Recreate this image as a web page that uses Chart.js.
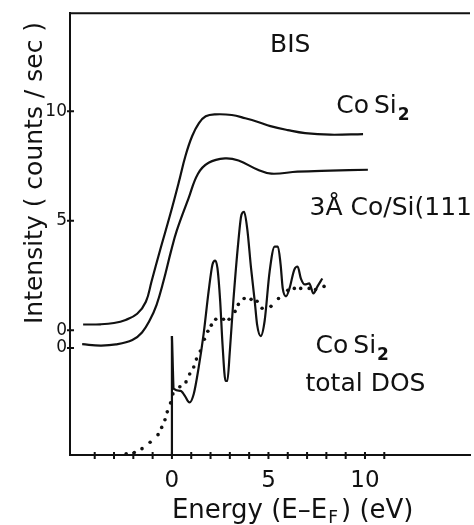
<!DOCTYPE html>
<html>
<head>
<meta charset="utf-8">
<script src="https://cdn.jsdelivr.net/npm/chart.js@4.4.1/dist/chart.umd.min.js"></script>
<style>
  html, body { margin: 0; padding: 0; background: #fff; }
  #chart { display: block; }
</style>
</head>
<body>
<canvas id="chart" width="474" height="525"></canvas>
<script>
const INK = '#111';
const FONT = "'DejaVu Sans', sans-serif";

// BIS spectrum of CoSi2 (upper trace)
const cosi2Energy = [-4.6, -3.7, -3.0, -2.4, -1.8, -1.35, -1.05, -0.6, -0.1, 0.35, 0.7, 1.05, 1.4, 1.75, 2.25, 3.1, 3.8, 4.5, 5.1, 6.0, 6.9, 8.2, 9.9];
const cosi2Counts = [0.26, 0.27, 0.33, 0.47, 0.75, 1.3, 2.25, 3.7, 5.25, 6.74, 7.96, 8.87, 9.46, 9.77, 9.86, 9.83, 9.68, 9.5, 9.32, 9.14, 9.0, 8.93, 8.96];

// BIS spectrum of 3 A Co on Si(111) (lower trace, drawn on its own offset zero)
const coSiEnergy = [-4.65, -3.7, -2.9, -2.05, -1.55, -1.15, -0.8, -0.45, -0.05, 0.25, 0.85, 1.35, 1.9, 2.75, 3.45, 4.45, 5.15, 6.5, 8.2, 10.15];
const coSiCounts = [-0.64, -0.7, -0.65, -0.45, -0.1, 0.45, 1.15, 2.2, 3.6, 4.55, 6.0, 7.15, 7.65, 7.85, 7.75, 7.33, 7.15, 7.24, 7.29, 7.33];

// calculated CoSi2 total DOS (solid), with the edge at E_F
const dosEdgeEnergy = [0, 0];
const dosEdgeValue = [-5.7, -0.27];
const dosEnergy = [0, 0.1, 0.45, 0.67, 0.91, 1.13, 1.38, 1.64, 1.9, 2.1, 2.24, 2.36, 2.5, 2.62, 2.78, 2.87, 3.0, 3.18, 3.44, 3.6, 3.74, 3.9, 4.1, 4.29, 4.41, 4.6, 4.8, 5.06, 5.32, 5.49, 5.63, 5.74, 5.91, 6.09, 6.34, 6.51, 6.68, 6.89, 7.11, 7.33, 7.54, 7.79];
const dosValue = [-0.27, -2.68, -2.77, -3.0, -3.3, -2.91, -1.73, -0.18, 1.77, 3.0, 3.18, 2.82, 1.32, -0.64, -2.32, -2.32, -0.95, 1.32, 4.05, 5.27, 5.41, 4.64, 2.82, 1.32, 0.27, -0.27, 0.41, 2.68, 3.82, 3.82, 3.0, 1.91, 1.55, 1.91, 2.77, 2.91, 2.36, 2.09, 2.14, 1.68, 2.0, 2.36];

// broadened DOS (dotted)
const dotEnergy = [-2.37, -1.95, -1.55, -1.13, -0.72, -0.53, -0.36, -0.24, -0.07, 0.05, 0.41, 0.73, 0.92, 1.13, 1.27, 1.47, 1.68, 1.86, 2.04, 2.27, 2.67, 2.96, 3.27, 3.44, 3.74, 4.1, 4.41, 4.67, 5.13, 5.52, 6.0, 6.34, 6.67, 7.11, 7.44, 7.88];
const dotValue = [-5.64, -5.59, -5.41, -5.12, -4.77, -4.44, -4.09, -3.73, -3.32, -2.91, -2.58, -2.36, -2.0, -1.68, -1.32, -0.95, -0.41, -0.05, 0.23, 0.5, 0.5, 0.5, 0.86, 1.18, 1.45, 1.41, 1.32, 1.0, 1.09, 1.45, 1.82, 1.91, 1.91, 1.91, 1.86, 2.0];

// axis ticks
const xTickValues = [-4, -3, -2, -1, 0, 1, 2, 3, 4, 5, 6, 7, 8, 9, 10, 11];
const xTickLabels = { 0: '0', 5: '5', 10: '10' };
const yTickValues = [-0.81, 0, 5, 10];
const yTickLabels = ['0', '0', '5', '10'];

const pts = (xs, ys) => xs.map((x, i) => ({ x, y: ys[i] }));

const lineSet = (data, extra) => Object.assign({
    data,
    showLine: true,
    borderColor: INK,
    borderWidth: 2.2,
    pointRadius: 0,
    fill: false
}, extra);

const frameAndTicks = {
    id: 'frameAndTicks',
    afterDraw(chart) {
        const { ctx, chartArea: a, scales: { x, y } } = chart;
        ctx.save();
        ctx.strokeStyle = INK;
        ctx.lineWidth = 2;
        ctx.beginPath();
        ctx.moveTo(a.left - 1, a.top);
        ctx.lineTo(a.right, a.top);
        xTickValues.forEach(v => {
            const px = x.getPixelForValue(v);
            ctx.moveTo(px, a.bottom - 3);
            ctx.lineTo(px, a.bottom + 4);
        });
        yTickValues.forEach(v => {
            const py = y.getPixelForValue(v);
            ctx.moveTo(a.left - 3, py);
            ctx.lineTo(a.left + 4, py);
        });
        ctx.stroke();
        ctx.restore();
    }
};

const textNotes = {
    id: 'textNotes',
    afterDraw(chart) {
        const { ctx, chartArea: a, scales: { x, y } } = chart;
        const notes = [
            { e: 5.08, v: 12.71, text: 'BIS' },
            { e: 8.51, v: 9.91, text: 'Co\u2009Si', sub: '2' },
            { e: 7.13, v: 5.25, text: '3Å Co/Si(111)' },
            { e: 7.44, v: -1.04, text: 'Co\u2009Si', sub: '2' },
            { e: 6.92, v: -2.76, text: 'total DOS' }
        ];
        ctx.save();
        ctx.fillStyle = INK;
        ctx.textBaseline = 'alphabetic';
        ctx.textAlign = 'left';
        notes.forEach(n => {
            const px = x.getPixelForValue(n.e);
            const py = y.getPixelForValue(n.v);
            ctx.font = '25px ' + FONT;
            ctx.fillText(n.text, px, py);
            if (n.sub) {
                const w = ctx.measureText(n.text).width;
                ctx.font = 'bold 17px ' + FONT;
                ctx.fillText(n.sub, px + w + 1, py + 7);
            }
        });

        // x axis title with subscript
        let tx = x.getPixelForValue(0);
        const ty = 518;
        ctx.font = '26px ' + FONT;
        ctx.fillText('Energy (E\u2013E', tx, ty);
        tx += ctx.measureText('Energy (E\u2013E').width;
        ctx.font = '17px ' + FONT;
        ctx.fillText('F', tx + 1, ty + 5);
        tx += ctx.measureText('F').width + 4;
        ctx.font = '26px ' + FONT;
        ctx.fillText(') (eV)', tx, ty);

        // y axis title
        ctx.translate(a.left - 28, 173);
        ctx.rotate(-Math.PI / 2);
        ctx.textAlign = 'center';
        ctx.font = '25px ' + FONT;
        ctx.fillText('Intensity ( counts / sec )', 0, 0);
        ctx.restore();
    }
};

new Chart(document.getElementById('chart').getContext('2d'), {
    type: 'scatter',
    data: {
        datasets: [
            lineSet(pts(cosi2Energy, cosi2Counts), { tension: 0.4 }),
            lineSet(pts(coSiEnergy, coSiCounts), { tension: 0.4 }),
            lineSet(pts(dosEdgeEnergy, dosEdgeValue), { tension: 0 }),
            lineSet(pts(dosEnergy, dosValue), { cubicInterpolationMode: 'monotone' }),
            {
                data: pts(dotEnergy, dotValue),
                showLine: false,
                pointRadius: 1.8,
                pointBorderWidth: 0,
                pointBackgroundColor: INK
            }
        ]
    },
    options: {
        responsive: false,
        animation: false,
        devicePixelRatio: 1,
        layout: { padding: { top: 9, right: 0, bottom: 0, left: 0 } },
        plugins: {
            legend: { display: false },
            tooltip: { enabled: false }
        },
        scales: {
            x: {
                type: 'linear',
                min: -5.28,
                max: 15.44,
                afterBuildTicks: scale => { scale.ticks = xTickValues.map(v => ({ value: v })); },
                afterFit: scale => { scale.height = 70; },
                grid: { display: false, drawTicks: false },
                border: { color: INK, width: 2 },
                ticks: {
                    autoSkip: false,
                    maxRotation: 0,
                    padding: 12,
                    color: INK,
                    font: { family: FONT, size: 23 },
                    callback: v => xTickLabels[v] || ''
                }
            },
            y: {
                type: 'linear',
                min: -5.7,
                max: 14.48,
                afterBuildTicks: scale => { scale.ticks = yTickValues.map(v => ({ value: v })); },
                afterFit: scale => { scale.width = 70; },
                grid: { display: false, drawTicks: false },
                border: { color: INK, width: 2 },
                ticks: {
                    autoSkip: false,
                    padding: 3,
                    color: INK,
                    font: { family: FONT, size: 17 },
                    callback: (v, i) => yTickLabels[i]
                }
            }
        }
    },
    plugins: [frameAndTicks, textNotes]
});
</script>
</body>
</html>
